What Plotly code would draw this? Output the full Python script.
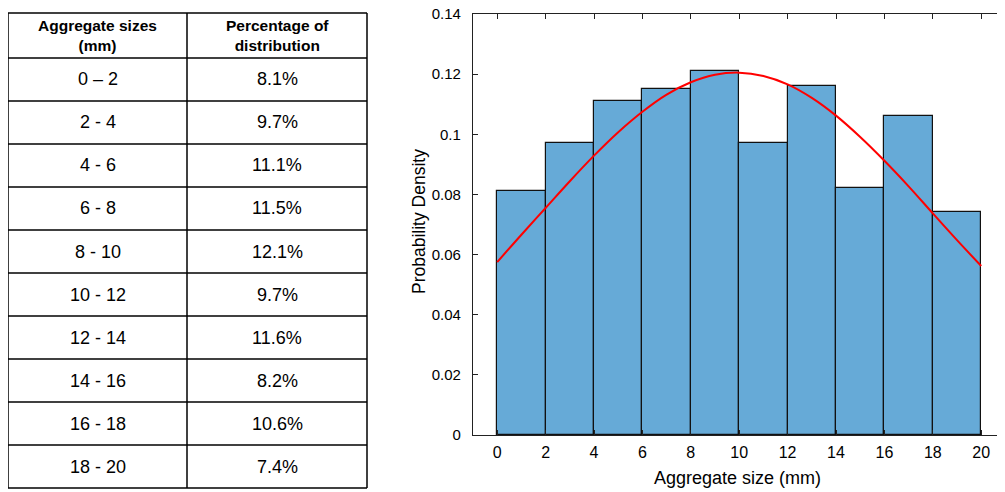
import plotly.graph_objects as go

size_ranges = ["0 – 2", "2 - 4", "4 - 6", "6 - 8", "8 - 10", "10 - 12",
               "12 - 14", "14 - 16", "16 - 18", "18 - 20"]
pct_labels = ["8.1%", "9.7%", "11.1%", "11.5%", "12.1%", "9.7%",
              "11.6%", "8.2%", "10.6%", "7.4%"]
header_labels = ["<b>Aggregate sizes<br>(mm)</b>", "<b>Percentage of<br>distribution</b>"]
bin_left = [0, 2, 4, 6, 8, 10, 12, 14, 16, 18]
density = [0.081, 0.097, 0.111, 0.115, 0.121, 0.097, 0.116, 0.082, 0.106, 0.074]
curve_x = [0, 1, 2, 3, 4, 5, 6, 7, 8, 9, 10, 11, 12, 13, 14, 15, 16, 17, 18, 19, 20]
curve_y = [0.0575, 0.0666, 0.0755, 0.0844, 0.0929, 0.1007, 0.1075, 0.1132, 0.1173,
           0.1198, 0.1205, 0.1194, 0.1166, 0.1121, 0.1062, 0.0991, 0.0912, 0.0827,
           0.0737, 0.0648, 0.0562]
yticks = [0, 0.02, 0.04, 0.06, 0.08, 0.1, 0.12, 0.14]
ytick_text = ["0", "0.02", "0.04", "0.06", "0.08", "0.1", "0.12", "0.14"]
xticks = [0, 2, 4, 6, 8, 10, 12, 14, 16, 18, 20]

W, H = 1005, 492
OFF = 8  # page body margin
FW, FH = W - OFF, H - OFF
FONT = "Liberation Sans, Arial, sans-serif"

# table geometry (window pixels)
TX0, TX1, TX2 = 8, 187, 367
TY0 = 13
HEAD_H = 45
ROW_H = 43


def px_x(p):
    return (p - OFF) / FW


def px_y(p):
    return 1 - (p - OFF) / FH


fig = go.Figure()

fig.add_trace(go.Bar(
    x=[b + 1 for b in bin_left],
    y=density,
    width=2,
    marker=dict(color="#66AAD7", line=dict(color="#111", width=1.2)),
    xaxis="x", yaxis="y",
    showlegend=False,
))

fig.add_trace(go.Scatter(
    x=curve_x, y=curve_y,
    mode="lines",
    line=dict(color="red", width=2, shape="spline"),
    xaxis="x", yaxis="y",
    showlegend=False,
))

shapes = []
annotations = []
row_edges = [TY0, TY0 + HEAD_H] + [TY0 + HEAD_H + ROW_H * (i + 1) for i in range(len(size_ranges))]
bottom = row_edges[-1]
for ye in row_edges:
    shapes.append(dict(type="line", xref="paper", yref="paper",
                       x0=px_x(TX0), x1=px_x(TX2), y0=px_y(ye), y1=px_y(ye),
                       line=dict(color="black", width=1.5)))
for xe in [TX0, TX1, TX2]:
    shapes.append(dict(type="line", xref="paper", yref="paper",
                       x0=px_x(xe), x1=px_x(xe), y0=px_y(TY0), y1=px_y(bottom),
                       line=dict(color="black", width=1.5)))

col_centers = [(TX0 + TX1) / 2, (TX1 + TX2) / 2]
for ci, lab in enumerate(header_labels):
    annotations.append(dict(text=lab, x=px_x(col_centers[ci]), y=px_y(TY0 + HEAD_H / 2),
                            xref="paper", yref="paper", showarrow=False, align="center",
                            xanchor="center", yanchor="middle",
                            font=dict(size=15.5, color="black", family=FONT)))
for ri in range(len(size_ranges)):
    yc = TY0 + HEAD_H + ROW_H * ri + ROW_H / 2
    for ci, col in enumerate([size_ranges, pct_labels]):
        annotations.append(dict(text=col[ri], x=px_x(col_centers[ci]), y=px_y(yc),
                                xref="paper", yref="paper", showarrow=False,
                                xanchor="center", yanchor="middle",
                                font=dict(size=18, color="black", family=FONT)))

annotations += [
    dict(text="Aggregate size (mm)", x=px_x(737), y=px_y(478),
         xref="paper", yref="paper", showarrow=False,
         font=dict(size=18, color="black"), xanchor="center", yanchor="middle"),
    dict(text="Probability Density", x=px_x(419), y=px_y(222),
         xref="paper", yref="paper", showarrow=False, textangle=-90,
         font=dict(size=17.5, color="black"), xanchor="center", yanchor="middle"),
]

fig.update_layout(
    width=FW, height=FH,
    margin=dict(l=0, r=0, t=0, b=0, pad=0, autoexpand=False),
    paper_bgcolor="white",
    plot_bgcolor="white",
    font=dict(family=FONT, color="black"),
    xaxis=dict(
        domain=[px_x(473), px_x(1003)],
        range=[-1, 20.9],
        tickvals=xticks,
        ticks="inside", ticklen=5, tickcolor="#222", tickwidth=1.2,
        showline=True, linecolor="#222", linewidth=1.3, mirror="ticks",
        showgrid=False, zeroline=False, automargin=False,
        ticklabeloverflow="allow", ticklabelstandoff=3,
        tickfont=dict(size=16, color="black"),
    ),
    yaxis=dict(
        domain=[px_y(435), px_y(14)],
        range=[0, 0.14],
        tickvals=yticks, ticktext=ytick_text,
        ticks="inside", ticklen=5, tickcolor="#222", tickwidth=1.2,
        showline=True, linecolor="#222", linewidth=1.3, mirror="ticks",
        showgrid=False, zeroline=False, automargin=False,
        ticklabeloverflow="allow", ticklabelstandoff=8,
        tickfont=dict(size=15, color="black"),
    ),
    bargap=0,
    shapes=shapes,
    annotations=annotations,
)

fig.write_html("out.html")
